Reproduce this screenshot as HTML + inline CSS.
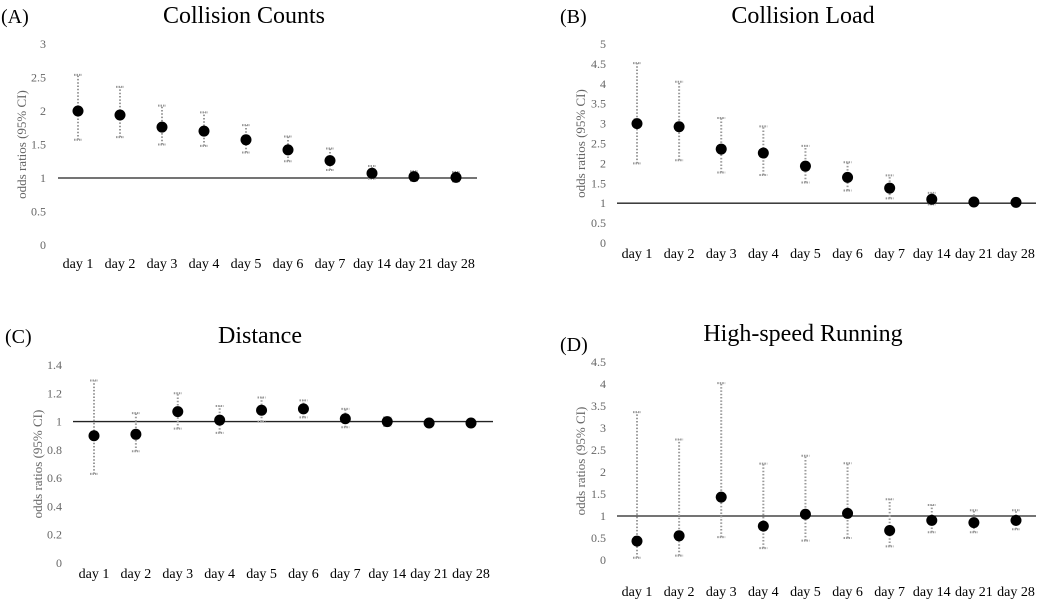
<!DOCTYPE html>
<html><head><meta charset="utf-8">
<style>
html,body{margin:0;padding:0;background:#fff;}
svg{display:block;font-family:"Liberation Serif",serif;}
</style></head>
<body>
<svg id="fig" width="1038" height="600" viewBox="0 0 1038 600" xmlns="http://www.w3.org/2000/svg"></svg>
<script>
const categories = ["day 1","day 2","day 3","day 4","day 5","day 6","day 7","day 14","day 21","day 28"];
const estA = [2.00,1.94,1.76,1.70,1.57,1.42,1.26,1.07,1.02,1.01];
const loA  = [1.57,1.61,1.50,1.48,1.38,1.25,1.12,0.99,0.96,0.95];
const hiA  = [2.54,2.36,2.08,1.98,1.79,1.62,1.44,1.18,1.10,1.09];
const ticksA = [0,0.5,1,1.5,2,2.5,3];
const estB = [3.00,2.92,2.36,2.26,1.93,1.65,1.38,1.10,1.03,1.02];
const loB  = [2.00,2.08,1.77,1.71,1.52,1.32,1.12,0.97,0.98,0.97];
const hiB  = [4.52,4.05,3.14,2.93,2.44,2.03,1.70,1.26,1.09,1.07];
const ticksB = [0,0.5,1,1.5,2,2.5,3,3.5,4,4.5,5];
const estC = [0.90,0.91,1.07,1.01,1.08,1.09,1.02,1.00,0.99,0.99];
const loC  = [0.63,0.79,0.95,0.92,1.00,1.03,0.96,0.97,0.97,0.98];
const hiC  = [1.29,1.06,1.20,1.11,1.17,1.15,1.09,1.03,1.01,1.00];
const ticksC = [0,0.2,0.4,0.6,0.8,1,1.2,1.4];
const estD = [0.43,0.55,1.43,0.77,1.04,1.06,0.67,0.90,0.85,0.90];
const loD  = [0.05,0.10,0.52,0.27,0.44,0.50,0.31,0.63,0.63,0.70];
const hiD  = [3.36,2.74,4.02,2.19,2.37,2.20,1.38,1.25,1.13,1.13];
const ticksD = [0,0.5,1,1.5,2,2.5,3,3.5,4,4.5];

const NS="http://www.w3.org/2000/svg";
const svg=document.getElementById('fig');
function mk(tag,attrs,parent,text){const e=document.createElementNS(NS,tag);for(const k in attrs)e.setAttribute(k,attrs[k]);if(text!==undefined)e.textContent=text;(parent||svg).appendChild(e);return e;}

const panels=[
 {id:'a',label:'(A)',title:'Collision Counts',est:estA,lo:loA,hi:hiA,ticks:ticksA,max:3,y0:245,yTop:44,x0:78,x1:456,lineL:58,lineR:477,tickX:46,titleX:244,titleY:23,labX:1,labY:23,xLabY:268,axX:26},
 {id:'b',label:'(B)',title:'Collision Load',est:estB,lo:loB,hi:hiB,ticks:ticksB,max:5,y0:243,yTop:44,x0:637,x1:1016,lineL:617,lineR:1036,tickX:606,titleX:803,titleY:23,labX:560,labY:23,xLabY:258,axX:585},
 {id:'c',label:'(C)',title:'Distance',est:estC,lo:loC,hi:hiC,ticks:ticksC,max:1.4,y0:563,yTop:365,x0:94,x1:471,lineL:73,lineR:493,tickX:62,titleX:260,titleY:343,labX:5,labY:343,xLabY:578,axX:42},
 {id:'d',label:'(D)',title:'High-speed Running',est:estD,lo:loD,hi:hiD,ticks:ticksD,max:4.5,y0:560,yTop:362,x0:637,x1:1016,lineL:617,lineR:1036,tickX:606,titleX:803,titleY:341,labX:560,labY:351,xLabY:596,axX:585}
];

panels.forEach(p=>{
 const g=mk('g',{});
 
 
 const y=v=>p.y0-(v/p.max)*(p.y0-p.yTop);
 const x=i=>p.x0+i*(p.x1-p.x0)/(categories.length-1);
 const pl=mk('text',{x:p.labX,y:p.labY,'font-size':20,fill:'#000'},g,p.label);
 
 
 const t=mk('text',{x:p.titleX,y:p.titleY,'font-size':24,fill:'#000','text-anchor':'middle'},g,p.title);
 
 
 p.ticks.forEach(v=>{
  const tl=mk('text',{x:p.tickX,y:y(v)+4,'font-size':12,fill:'#666','text-anchor':'end'},g,String(v));
  
  
 });
 const cy=(p.y0+p.yTop)/2;
 const at=mk('text',{x:p.axX,y:cy,'font-size':13,fill:'#666','text-anchor':'middle',transform:`rotate(-90 ${p.axX} ${cy})`},g,'odds ratios (95% CI)');
 
 
 const rl=mk('line',{x1:p.lineL,x2:p.lineR,y1:y(1),y2:y(1),stroke:'#222','stroke-width':1.3},g);
 
 
 categories.forEach((c,i)=>{
  const xl=mk('text',{x:x(i),y:p.xLabY,'font-size':14,fill:'#000','text-anchor':'middle'},g,c);
  
  
  const eb=mk('line',{x1:x(i),x2:x(i),y1:y(p.lo[i]),y2:y(p.hi[i]),stroke:'#999','stroke-width':2,'stroke-dasharray':'1.5,1.8'},g);
  
  
  [p.lo[i],p.hi[i]].forEach(v=>{
   const cap=mk('line',{x1:x(i)-4,x2:x(i)+4,y1:y(v),y2:y(v),stroke:'#999','stroke-width':2,'stroke-dasharray':'1.5,1'},g);
   
   
  });
  const d=mk('circle',{cx:x(i),cy:y(p.est[i]),r:5.5,fill:'#000'},g);
  
  
 });
});
</script>
</body></html>
